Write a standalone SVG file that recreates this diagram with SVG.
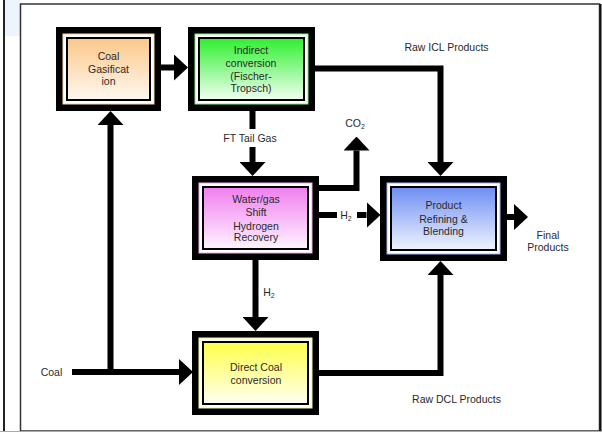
<svg xmlns="http://www.w3.org/2000/svg" width="602" height="432" viewBox="0 0 602 432">
<defs>
<style>
text{font-family:"Liberation Sans",Arial,sans-serif;font-size:10.5px;fill:#2a2a2a;text-anchor:middle}
.lbl{font-size:10.5px}
.sub{font-size:7px}
.conn{fill:none;stroke:#000;stroke-width:6;stroke-linejoin:miter}
.outer{fill:#000}
.ring{fill:#fff}
.inner{stroke:#000;stroke-width:2}
</style>
<marker id="ah" markerUnits="userSpaceOnUse" markerWidth="14" markerHeight="26" viewBox="0 0 14 26" refX="0" refY="13" orient="auto">
<path d="M0,0 L14,13 L0,26 Z" fill="#000"/>
</marker>
<linearGradient id="gOrange" x1="0" y1="0" x2="0" y2="1"><stop offset="0" stop-color="#fbc88a"/><stop offset="1" stop-color="#fff8f0"/></linearGradient>
<linearGradient id="gGreen" x1="0" y1="0" x2="0" y2="1"><stop offset="0" stop-color="#2ef02e"/><stop offset="1" stop-color="#f2fff2"/></linearGradient>
<linearGradient id="gPink" x1="0" y1="0" x2="0" y2="1"><stop offset="0" stop-color="#f07ef0"/><stop offset="1" stop-color="#fff4ff"/></linearGradient>
<linearGradient id="gBlue" x1="0" y1="0" x2="0" y2="1"><stop offset="0" stop-color="#6d8ef2"/><stop offset="1" stop-color="#f0f4ff"/></linearGradient>
<linearGradient id="gYellow" x1="0" y1="0" x2="0" y2="1"><stop offset="0" stop-color="#ffff4a"/><stop offset="1" stop-color="#fffff2"/></linearGradient>
</defs>

<!-- page frame -->
<rect x="0" y="0" width="602" height="432" fill="#fff"/>
<rect x="5" y="0" width="15" height="36" fill="#eef4fd"/>
<line x1="4" y1="0" x2="4" y2="431" stroke="#222" stroke-width="2"/>
<rect x="20.5" y="4" width="579" height="427" fill="#fff" stroke="#333" stroke-width="1.5"/>
<line x1="600.5" y1="4" x2="600.5" y2="431" stroke="#111" stroke-width="2"/>
<line x1="0" y1="431.5" x2="602" y2="431.5" stroke="#aaa" stroke-width="1"/>

<g id="connectors">
<path class="conn" d="M161,67.5 H174" marker-end="url(#ah)"/>
<path class="conn" d="M252.5,111 V129 M252.5,147 V162" marker-end="url(#ah)"/>
<path class="conn" d="M315,68.5 H440.5 V162" marker-end="url(#ah)"/>
<path class="conn" d="M319,188 H356.5 V150.5" marker-end="url(#ah)"/>
<path class="conn" d="M319,215 H337 M357,215 H366.5" marker-end="url(#ah)"/>
<path class="conn" d="M507,217 H514" marker-end="url(#ah)"/>
<path class="conn" d="M255.5,260 V317" marker-end="url(#ah)"/>
<path class="conn" d="M72,372 H179" marker-end="url(#ah)"/>
<path class="conn" d="M110.5,375 V125" marker-end="url(#ah)"/>
<path class="conn" d="M319,373 H440.5 V275" marker-end="url(#ah)"/>
<text class="lbl" x="446.5" y="51">Raw ICL Products</text>
<text class="lbl" x="250" y="141.5">FT Tail Gas</text>
<text class="lbl" x="355" y="126.5">CO<tspan class="sub" dy="2.5">2</tspan></text>
<text class="lbl" x="346" y="218.5">H<tspan class="sub" dy="2.5">2</tspan></text>
<text class="lbl" x="269" y="295.5">H<tspan class="sub" dy="2.5">2</tspan></text>
<text class="lbl" x="548" y="239">Final</text>
<text class="lbl" x="548" y="251">Products</text>
<text class="lbl" x="51.5" y="375.5">Coal</text>
<text class="lbl" x="456.5" y="403">Raw DCL Products</text>
</g>

<g id="coal-gasification">
<rect class="outer" x="56" y="27" width="105" height="84"/>
<rect class="ring" x="63" y="34" width="91" height="70" stroke="#fbd5a8" stroke-width="1"/>
<rect class="inner" x="67" y="38" width="83" height="62" fill="url(#gOrange)"/>
<text x="108.5" y="60">Coal</text>
<text x="108.5" y="72.5">Gasificat</text>
<text x="108.5" y="85">ion</text>
</g>

<g id="indirect-conversion">
<rect class="outer" x="188" y="27" width="127" height="84"/>
<rect class="ring" x="195" y="34" width="113" height="70" stroke="#7cf07c" stroke-width="1"/>
<rect class="inner" x="199" y="38" width="105" height="62" fill="url(#gGreen)"/>
<text x="251" y="53.5">Indirect</text>
<text x="251" y="66.5">conversion</text>
<text x="251" y="80">(Fischer-</text>
<text x="251" y="92">Tropsch)</text>
</g>

<g id="water-gas-shift">
<rect class="outer" x="192" y="176" width="127" height="84"/>
<rect class="ring" x="199" y="183" width="113" height="70" stroke="#f3a8f3" stroke-width="1"/>
<rect class="inner" x="203" y="187" width="105" height="62" fill="url(#gPink)"/>
<text x="256" y="203">Water/gas</text>
<text x="256" y="216">Shift</text>
<text x="256" y="229.5">Hydrogen</text>
<text x="256" y="241">Recovery</text>
</g>

<g id="product-refining">
<rect class="outer" x="380" y="176" width="127" height="85"/>
<rect class="ring" x="387" y="183" width="113" height="71" stroke="#9fb4f5" stroke-width="1"/>
<rect class="inner" x="391" y="187" width="105" height="63" fill="url(#gBlue)"/>
<text x="443.5" y="209">Product</text>
<text x="443.5" y="222.5">Refining &amp;</text>
<text x="443.5" y="235">Blending</text>
</g>

<g id="direct-coal">
<rect class="outer" x="192" y="331" width="127" height="84"/>
<rect class="ring" x="199" y="338" width="113" height="70" stroke="#f5f590" stroke-width="1"/>
<rect class="inner" x="203" y="342" width="105" height="62" fill="url(#gYellow)"/>
<text x="256" y="371">Direct Coal</text>
<text x="256" y="383.5">conversion</text>
</g>
</svg>
